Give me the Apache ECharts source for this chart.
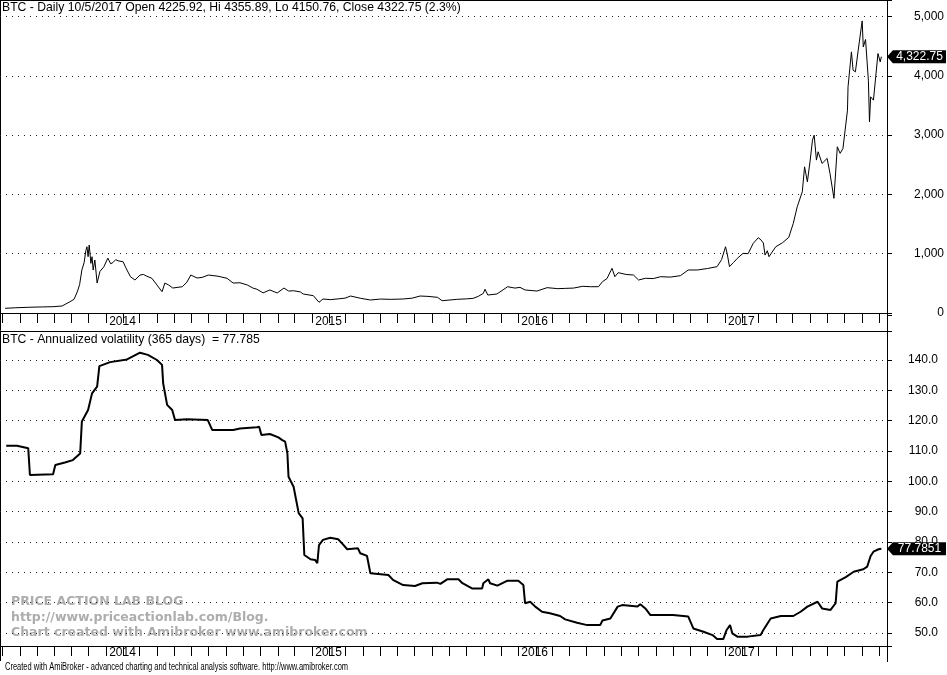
<!DOCTYPE html>
<html>
<head>
<meta charset="utf-8">
<title>BTC - Annualized volatility</title>
<script src="https://cdn.jsdelivr.net/npm/echarts@6/dist/echarts.min.js"></script>
<style>
  html, body { margin: 0; padding: 0; background: #fff; }
  #chart { width: 947px; height: 675px; }
</style>
</head>
<body>
<div id="chart"></div>
<script>
// x range of both panes (AmiBroker leaves a few empty bars on the right)
const axisStart = '2013-06-27'
const axisEnd = '2017-10-15'
// date strip: a tick every month, a label every year
const yearLabels = ['2014', '2015', '2016', '2017']
const firstTickMonth = '2013-07'
const lastTickMonth = '2017-10'

// BTC daily close
const priceDates = [
  // 2013
  '2013-07-06', '2013-07-25', '2013-08-16', '2013-09-10', '2013-09-29', '2013-10-15', '2013-10-29', '2013-11-05',
  '2013-11-10', '2013-11-12', '2013-11-15', '2013-11-19', '2013-11-23', '2013-11-26', '2013-11-28', '2013-11-30',
  '2013-12-02', '2013-12-05', '2013-12-07', '2013-12-09', '2013-12-12', '2013-12-16', '2013-12-21', '2013-12-28',
  // 2014
  '2014-01-04', '2014-01-09', '2014-01-13', '2014-01-18', '2014-01-22', '2014-01-31', '2014-02-05', '2014-02-13',
  '2014-02-21', '2014-03-02', '2014-03-08', '2014-03-14', '2014-03-23', '2014-04-01', '2014-04-10', '2014-04-15',
  '2014-04-22', '2014-04-29', '2014-05-16', '2014-05-24', '2014-05-31', '2014-06-11', '2014-06-20', '2014-07-01',
  '2014-07-18', '2014-08-03', '2014-08-14', '2014-08-26', '2014-09-08', '2014-09-18', '2014-09-25', '2014-10-06',
  '2014-10-18', '2014-10-31', '2014-11-12', '2014-11-20', '2014-11-29', '2014-12-11', '2014-12-16',
  // 2015
  '2015-01-03', '2015-01-13', '2015-01-20', '2015-02-02', '2015-02-14', '2015-02-28', '2015-03-10', '2015-03-28',
  '2015-04-14', '2015-05-02', '2015-05-20', '2015-06-11', '2015-06-27', '2015-07-11', '2015-07-25', '2015-08-11',
  '2015-08-19', '2015-09-14', '2015-10-01', '2015-10-13', '2015-10-22', '2015-10-31', '2015-11-03', '2015-11-08',
  '2015-11-24', '2015-12-05', '2015-12-13', '2015-12-26',
  // 2016
  '2016-01-04', '2016-01-13', '2016-02-03', '2016-02-21', '2016-03-11', '2016-03-25', '2016-04-08', '2016-04-24',
  '2016-05-08', '2016-05-22', '2016-05-29', '2016-06-06', '2016-06-15', '2016-06-20', '2016-06-26', '2016-06-29',
  '2016-07-10', '2016-07-23', '2016-08-01', '2016-08-13', '2016-08-27', '2016-09-09', '2016-09-26', '2016-10-14',
  '2016-10-28', '2016-11-13', '2016-12-01', '2016-12-18', '2016-12-26',
  // 2017
  '2017-01-02', '2017-01-05', '2017-01-09', '2017-01-16', '2017-01-23', '2017-02-02', '2017-02-11', '2017-02-20',
  '2017-03-01', '2017-03-06', '2017-03-10', '2017-03-13', '2017-03-17', '2017-03-20', '2017-04-01', '2017-04-13',
  '2017-04-24', '2017-05-02', '2017-05-09', '2017-05-18', '2017-05-22', '2017-05-27', '2017-06-01', '2017-06-05',
  '2017-06-08', '2017-06-12', '2017-06-15', '2017-06-22', '2017-07-01', '2017-07-06', '2017-07-13', '2017-07-19',
  '2017-07-24', '2017-07-29', '2017-08-06', '2017-08-07', '2017-08-13', '2017-08-16', '2017-08-20', '2017-08-25',
  '2017-09-01', '2017-09-03', '2017-09-07', '2017-09-10', '2017-09-12', '2017-09-14', '2017-09-16', '2017-09-21',
  '2017-09-25', '2017-09-29', '2017-10-03', '2017-10-05'
]
const priceValues = [
  // 2013
  79, 88, 96, 102, 106, 118, 190, 230,
  337, 388, 480, 725, 850, 1050, 1117, 950,
  1146, 837, 949, 725, 893, 505, 700, 780,
  // 2014
  925, 830, 850, 900, 880, 865, 760, 612,
  556, 640, 650, 620, 585, 472, 359, 505,
  470, 421, 443, 520, 640, 590, 600, 640,
  620, 585, 505, 510, 472, 420, 400, 340,
  388, 337, 421, 370, 375, 355, 320,
  // 2015
  292, 180, 236, 225, 236, 250, 286, 247,
  219, 235, 230, 236, 250, 286, 280, 264,
  207, 230, 238, 247, 280, 330, 400, 303,
  320, 390, 443, 420,
  // 2016
  432, 388, 370, 427, 410, 415, 420, 450,
  443, 443, 528, 580, 753, 612, 680, 669,
  650, 640, 556, 585, 580, 612, 605, 629,
  725, 725, 750, 781, 900,
  // 2017
  1117, 1000, 781, 850, 922, 1006, 1000, 1174,
  1269, 1230, 1180, 977, 1050, 949, 1117, 1185,
  1275, 1511, 1791, 2044, 2465, 2212, 2578, 2915,
  2999, 2578, 2718, 2522, 2607, 2354, 1933, 2803,
  2691, 2775, 3420, 3813, 4403, 4094, 4066, 4431,
  4925, 4487, 4612, 4200, 3926, 3223, 3645, 3589,
  3981, 4375, 4234, 4322.75
]

// Annualized volatility (365 days), lower pane
const volDates = [
  // 2013
  '2013-07-08', '2013-07-11', '2013-07-27', '2013-08-16', '2013-08-19', '2013-09-29', '2013-10-03', '2013-10-20',
  '2013-11-03', '2013-11-16', '2013-11-19', '2013-11-30', '2013-12-07', '2013-12-16', '2013-12-20',
  // 2014
  '2014-01-08', '2014-02-07', '2014-03-02', '2014-03-16', '2014-04-01', '2014-04-10', '2014-04-12', '2014-04-19',
  '2014-04-28', '2014-05-03', '2014-05-24', '2014-06-30', '2014-07-08', '2014-08-14', '2014-08-26', '2014-09-25',
  '2014-09-29', '2014-10-03', '2014-10-18', '2014-11-02', '2014-11-09', '2014-11-14', '2014-11-18', '2014-11-20',
  '2014-11-29', '2014-12-08', '2014-12-15', '2014-12-18', '2014-12-29',
  // 2015
  '2015-01-06', '2015-01-10', '2015-01-13', '2015-01-20', '2015-02-02', '2015-02-16', '2015-02-24', '2015-03-04',
  '2015-03-23', '2015-03-27', '2015-04-08', '2015-04-14', '2015-05-16', '2015-05-24', '2015-06-11', '2015-07-02',
  '2015-07-15', '2015-08-10', '2015-08-16', '2015-08-28', '2015-09-17', '2015-09-24', '2015-10-11', '2015-10-29',
  '2015-10-31', '2015-11-09', '2015-11-12', '2015-11-25', '2015-12-12',
  // 2016
  '2016-01-01', '2016-01-10', '2016-01-13', '2016-01-22', '2016-01-31', '2016-02-12', '2016-02-26', '2016-03-15',
  '2016-03-24', '2016-04-14', '2016-05-02', '2016-05-25', '2016-05-29', '2016-06-12', '2016-06-25', '2016-07-03',
  '2016-07-30', '2016-08-04', '2016-08-13', '2016-08-22', '2016-10-01', '2016-10-28', '2016-11-06', '2016-11-24',
  '2016-12-10', '2016-12-18', '2016-12-29',
  // 2017
  '2017-01-04', '2017-01-10', '2017-01-14', '2017-01-23', '2017-02-10', '2017-03-05', '2017-03-10', '2017-03-23',
  '2017-04-10', '2017-05-02', '2017-05-15', '2017-05-27', '2017-06-14', '2017-06-22', '2017-07-07', '2017-07-16',
  '2017-07-19', '2017-08-03', '2017-08-17', '2017-09-03', '2017-09-10', '2017-09-16', '2017-09-21', '2017-09-30',
  '2017-10-05'
]
const volValues = [
  // 2013
  111.7, 112.3, 111.7, 110.9, 102.1, 102.3, 105.4, 106.2,
  107.0, 109.2, 119.7, 123.5, 129.0, 131.2, 138.0,
  // 2014
  139.3, 140.2, 142.4, 141.7, 140.0, 138.4, 132.3, 125.2,
  123.5, 120.2, 120.5, 120.2, 116.9, 116.9, 117.4, 117.8,
  118.0, 115.3, 115.6, 114.5, 113.6, 113.1, 109.2, 101.5,
  98.2, 89.5, 87.8, 75.7, 74.3,
  // 2015
  74.1, 73.0, 79.0, 80.7, 81.4, 80.9, 79.3, 77.6,
  77.9, 76.3, 75.4, 69.7, 69.1, 67.5, 65.8, 65.5,
  66.4, 66.6, 66.2, 67.7, 67.7, 66.4, 64.7, 64.7,
  66.4, 67.7, 66.4, 65.6, 67.2,
  // 2016
  67.2, 65.8, 59.8, 60.3, 58.7, 57.0, 56.5, 55.6,
  54.5, 53.4, 52.6, 52.6, 54.1, 54.8, 58.7, 59.2,
  58.7, 59.5, 58.1, 55.9, 55.9, 55.4, 51.5, 50.4,
  49.3, 48.0, 48.0,
  // 2017
  51.0, 52.6, 49.9, 48.8, 48.8, 49.3, 51.0, 54.8,
  55.6, 55.6, 57.0, 58.7, 60.3, 58.1, 57.6, 59.8,
  66.9, 68.4, 70.2, 71.0, 71.9, 75.4, 76.8, 77.6,
  77.785
]

// last bar, as printed in the pane titles
const lastDay = '10/5/2017'
const lastOpen = 4225.92
const lastHi = 4355.89
const lastLo = 4150.76
const lastClose = 4322.75
const lastChange = '2.3%'
const lastVol = 77.785
const lastVolTag = '77.7851'

const FONT = '"Liberation Sans", Arial, sans-serif'
const parseTime = echarts.time.parse
const endTime = +parseTime(axisEnd)

// month starts for the ticks
const monthTicks = []
let [ty, tm] = firstTickMonth.split('-').map(Number)
const lastTickIndex = Number(lastTickMonth.slice(0, 4)) * 12 + Number(lastTickMonth.slice(5))
while (ty * 12 + tm <= lastTickIndex) {
  monthTicks.push(+parseTime(ty + '-' + String(tm).padStart(2, '0') + '-01'))
  tm++
  if (tm > 12) { tm = 1; ty++ }
}
const yearTicks = yearLabels.map(y => +parseTime(y + '-01-01'))

// x is a plain value axis in milliseconds, so the month ticks can be placed exactly
function dateAxis (gridIndex) {
  return {
    type: 'value',
    gridIndex: gridIndex,
    min: +parseTime(axisStart),
    max: endTime,
    axisLine: { show: true, lineStyle: { color: '#000', width: 1 } },
    axisTick: { show: true, length: 10, customValues: monthTicks, lineStyle: { color: '#000', width: 1 } },
    axisLabel: {
      customValues: yearTicks,
      formatter: function (v) { return String(new Date(v).getFullYear()) },
      align: 'left',
      padding: [0, 0, 0, 3],
      margin: 1,
      color: '#000',
      fontSize: 12,
      fontFamily: FONT,
      hideOverlap: false
    },
    splitLine: { show: false }
  }
}

// dotted horizontal grid like AmiBroker
const dotted = { show: true, showMinLine: false, showMaxLine: false, lineStyle: { color: '#222', width: 1, type: [1, 5] } }

function lastTag (value, text) {
  return {
    silent: true,
    symbol: 'path://M0,6L6,0L60,0L60,12L6,12Z',
    symbolSize: [59, 13],
    symbolOffset: [29.5, 0],
    symbolKeepAspect: false,
    itemStyle: { color: '#000' },
    label: {
      show: true,
      position: 'inside',
      offset: [3, 0],
      color: '#fff',
      fontSize: 12,
      fontFamily: FONT,
      formatter: text
    },
    data: [{ coord: [endTime, value] }]
  }
}

const chart = echarts.init(document.getElementById('chart'))

const option = {
  animation: false,
  backgroundColor: '#fff',
  title: [{
    text: 'BTC - Daily ' + lastDay + ' Open ' + lastOpen + ', Hi ' + lastHi + ', Lo ' + lastLo +
      ', Close ' + lastClose + ' (' + lastChange + ')',
    left: 2,
    top: 2,
    padding: 0,
    textStyle: { fontSize: 12.2, fontWeight: 'normal', color: '#000', fontFamily: FONT }
  }, {
    text: 'BTC - Annualized volatility (365 days)  = ' + lastVol,
    left: 2,
    top: 334,
    padding: 0,
    textStyle: { fontSize: 12.2, fontWeight: 'normal', color: '#000', fontFamily: FONT }
  }],
  grid: [
    { left: 0, top: 0, right: 60, height: 315, outerBoundsMode: 'none' },
    { left: 0, top: 331, right: 60, height: 315, outerBoundsMode: 'none' }
  ],
  xAxis: [dateAxis(0), dateAxis(1)],
  yAxis: [{
    type: 'value',
    gridIndex: 0,
    position: 'right',
    min: -34,
    max: 5278,
    splitNumber: 5,
    minInterval: 1000,
    maxInterval: 1000,
    axisLine: { show: true, lineStyle: { color: '#000' } },
    axisTick: { show: true, length: 5, lineStyle: { color: '#000' } },
    axisLabel: {
      align: 'right',
      margin: 57,
      color: '#000',
      fontSize: 12,
      fontFamily: FONT,
      formatter: function (v) {
        const r = Math.round(v)
        if (r % 1000 !== 0) return ''
        return Math.abs(r).toLocaleString('en-US')
      }
    },
    splitLine: dotted
  }, {
    type: 'value',
    gridIndex: 1,
    position: 'right',
    min: 45.71,
    max: 149.56,
    splitNumber: 10,
    minInterval: 10,
    maxInterval: 10,
    axisLine: { show: true, lineStyle: { color: '#000' } },
    axisTick: { show: true, length: 5, lineStyle: { color: '#000' } },
    axisLabel: {
      align: 'right',
      margin: 51,
      color: '#000',
      fontSize: 12,
      fontFamily: FONT,
      formatter: function (v) {
        const r = Math.round(v * 10) / 10
        if (Math.abs(r % 10) > 1e-6) return ''
        return r.toFixed(1)
      }
    },
    splitLine: dotted
  }],
  series: [{
    name: 'BTC',
    type: 'line',
    xAxisIndex: 0,
    yAxisIndex: 0,
    data: priceDates.map((d, i) => [+parseTime(d), priceValues[i]]),
    symbol: 'none',
    showSymbol: false,
    lineStyle: { color: '#000', width: 1 },
    markPoint: lastTag(lastClose, '4,322.75')
  }, {
    name: 'Annualized volatility',
    type: 'line',
    xAxisIndex: 1,
    yAxisIndex: 1,
    data: volDates.map((d, i) => [+parseTime(d), volValues[i]]),
    symbol: 'none',
    showSymbol: false,
    lineStyle: { color: '#000', width: 2 },
    markPoint: lastTag(lastVol, lastVolTag)
  }],
  graphic: [
    // pane frames
    { type: 'line', silent: true, shape: { x1: 0.5, y1: 0, x2: 0.5, y2: 661 }, style: { stroke: '#000', lineWidth: 1 } },
    { type: 'line', silent: true, shape: { x1: 0, y1: 0.5, x2: 888, y2: 0.5 }, style: { stroke: '#000', lineWidth: 1 } },
    { type: 'line', silent: true, shape: { x1: 0, y1: 331.5, x2: 888, y2: 331.5 }, style: { stroke: '#000', lineWidth: 1 } },
    { type: 'line', silent: true, shape: { x1: 887.5, y1: 0, x2: 887.5, y2: 662 }, style: { stroke: '#000', lineWidth: 1 } },
    // watermark
    { type: 'text', silent: true, x: 11, y: 602, style: { text: 'PRICE ACTION LAB BLOG', fontSize: 12.5, fontWeight: 'bold', fontFamily: '"DejaVu Sans", Verdana, sans-serif', fill: '#adadad', verticalAlign: 'middle' } },
    { type: 'text', silent: true, x: 11, y: 618, style: { text: 'http://www.priceactionlab.com/Blog.', fontSize: 12.5, fontWeight: 'bold', fontFamily: '"DejaVu Sans", Verdana, sans-serif', fill: '#adadad', verticalAlign: 'middle' } },
    { type: 'text', silent: true, x: 11, y: 633, style: { text: 'Chart created with Amibroker www.amibroker.com', fontSize: 12.5, fontWeight: 'bold', fontFamily: '"DejaVu Sans", Verdana, sans-serif', fill: '#adadad', verticalAlign: 'middle' } },
    // footer
    { type: 'text', silent: true, x: 5, y: 667, scaleX: 0.75, style: { text: 'Created with AmiBroker - advanced charting and technical analysis software. http://www.amibroker.com', fontSize: 10, fontFamily: FONT, fill: '#000', verticalAlign: 'middle' } }
  ]
}

chart.setOption(option)
</script>
</body>
</html>
